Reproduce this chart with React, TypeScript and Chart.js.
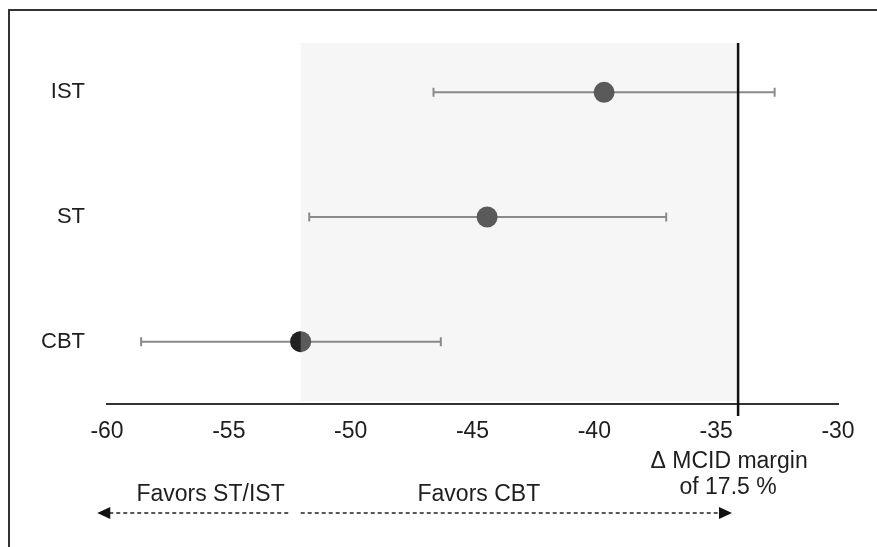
import React, { useEffect, useRef } from 'react';
import { Chart, registerables } from 'chart.js';

Chart.register(...registerables);

const groups = ['IST', 'ST', 'CBT'];
const means = [-39.6, -44.4, -52.05];
const ciLow = [-46.6, -51.7, -58.6];
const ciHigh = [-32.6, -37.05, -46.3];
const xTickValues = [-60, -55, -50, -45, -40, -35, -30];
const marginValue = -34.1;
const shadeStart = -52.05;
const marginLabel = ['\u0394 MCID margin', 'of 17.5 %'];
const favorLeftLabel = 'Favors ST/IST';
const favorRightLabel = 'Favors CBT';
const favorLeftCenter = -55.75;
const favorRightCenter = -44.74;
const arrowLeftTip = -60.4;
const arrowLeftEnd = -52.5;
const arrowRightStart = -52.05;
const arrowRightTip = -34.35;

const FONT = '"Liberation Sans", Arial, sans-serif';
const TEXT = '#1e1e1e';

const forestPlugin = {
  id: 'forest',
  beforeDraw(chart: any) {
    const ctx = chart.ctx;
    ctx.save();
    ctx.strokeStyle = '#333333';
    ctx.lineWidth = 2;
    ctx.beginPath();
    ctx.moveTo(9, chart.height);
    ctx.lineTo(9, 10);
    ctx.lineTo(chart.width, 10);
    ctx.stroke();
    ctx.restore();
  },
  beforeDatasetsDraw(chart: any) {
    const ctx = chart.ctx;
    const xs = chart.scales.x;
    const ys = chart.scales.y;
    const area = chart.chartArea;
    const top = ys.getPixelForValue(-0.395);
    ctx.save();
    const x0 = xs.getPixelForValue(shadeStart);
    const x1 = xs.getPixelForValue(marginValue);
    ctx.fillStyle = '#f6f6f6';
    ctx.fillRect(x0, top, x1 - x0, area.bottom - 3 - top);
    ctx.strokeStyle = '#8a8a8a';
    ctx.lineWidth = 2;
    groups.forEach((g, i) => {
      const y = ys.getPixelForValue(i);
      const a = xs.getPixelForValue(ciLow[i]);
      const b = xs.getPixelForValue(ciHigh[i]);
      ctx.beginPath();
      ctx.moveTo(a, y);
      ctx.lineTo(b, y);
      ctx.moveTo(a, y - 4.5);
      ctx.lineTo(a, y + 4.5);
      ctx.moveTo(b, y - 4.5);
      ctx.lineTo(b, y + 4.5);
      ctx.stroke();
    });
    ctx.restore();
  },
  afterDatasetsDraw(chart: any) {
    const ctx = chart.ctx;
    const xs = chart.scales.x;
    const ys = chart.scales.y;
    const area = chart.chartArea;
    const top = ys.getPixelForValue(-0.395);
    ctx.save();
    const meta = chart.getDatasetMeta(0);
    const p = meta.data[2];
    if (p) {
      ctx.fillStyle = '#222222';
      ctx.beginPath();
      ctx.arc(p.x, p.y, 10.5, Math.PI / 2, (3 * Math.PI) / 2);
      ctx.closePath();
      ctx.fill();
    }
    const mx = xs.getPixelForValue(marginValue);
    ctx.strokeStyle = '#111111';
    ctx.lineWidth = 2.5;
    ctx.beginPath();
    ctx.moveTo(mx, top);
    ctx.lineTo(mx, area.bottom + 12);
    ctx.stroke();
    ctx.fillStyle = TEXT;
    ctx.font = `23px ${FONT}`;
    ctx.textAlign = 'center';
    ctx.textBaseline = 'middle';
    ctx.fillText(marginLabel[0], mx - 9, area.bottom + 58);
    ctx.fillText(marginLabel[1], mx - 10, area.bottom + 84);
    ctx.fillText(favorLeftLabel, xs.getPixelForValue(favorLeftCenter), area.bottom + 91);
    ctx.fillText(favorRightLabel, xs.getPixelForValue(favorRightCenter), area.bottom + 91);
    const ay = area.bottom + 109;
    const lt = xs.getPixelForValue(arrowLeftTip);
    const le = xs.getPixelForValue(arrowLeftEnd);
    const rs = xs.getPixelForValue(arrowRightStart);
    const rt = xs.getPixelForValue(arrowRightTip);
    ctx.strokeStyle = '#222222';
    ctx.lineWidth = 1.5;
    ctx.setLineDash([4, 3]);
    ctx.beginPath();
    ctx.moveTo(lt + 12, ay);
    ctx.lineTo(le, ay);
    ctx.moveTo(rs, ay);
    ctx.lineTo(rt - 12, ay);
    ctx.stroke();
    ctx.setLineDash([]);
    ctx.fillStyle = '#111111';
    ctx.beginPath();
    ctx.moveTo(lt, ay);
    ctx.lineTo(lt + 13, ay - 6);
    ctx.lineTo(lt + 13, ay + 6);
    ctx.closePath();
    ctx.fill();
    ctx.beginPath();
    ctx.moveTo(rt, ay);
    ctx.lineTo(rt - 13, ay - 6);
    ctx.lineTo(rt - 13, ay + 6);
    ctx.closePath();
    ctx.fill();
    ctx.restore();
  },
};

export default function App() {
  const ref = useRef<HTMLCanvasElement | null>(null);
  useEffect(() => {
    if (!ref.current) return;
    const chart = new Chart(ref.current, {
      type: 'scatter',
      data: {
        datasets: [
          {
            data: groups.map((g, i) => ({ x: means[i], y: g })),
            backgroundColor: '#5a5a5a',
            borderWidth: 0,
            pointRadius: 10.5,
            pointHoverRadius: 10.5,
          } as any,
        ],
      },
      options: {
        animation: false,
        responsive: true,
        maintainAspectRatio: false,
        layout: { padding: { top: 30, right: 39, bottom: 0, left: 0 } },
        plugins: { legend: { display: false }, tooltip: { enabled: false } },
        scales: {
          x: {
            type: 'linear',
            min: -60,
            max: -30,
            afterBuildTicks: (scale: any) => {
              scale.ticks = xTickValues.map((v) => ({ value: v }));
            },
            afterFit: (scale: any) => {
              scale.height = 143;
            },
            grid: { display: false, drawTicks: false },
            border: { display: true, color: '#333333', width: 2 },
            ticks: {
              padding: 14,
              color: TEXT,
              font: { size: 23, family: FONT },
              maxRotation: 0,
              callback: (v: any) => String(v),
            },
          },
          y: {
            type: 'category',
            labels: groups,
            offset: true,
            afterFit: (scale: any) => {
              scale.width = 107;
              scale.paddingTop = 0;
              scale.paddingBottom = 0;
            },
            grid: { display: false, drawTicks: false },
            border: { display: false },
            ticks: {
              padding: 22,
              color: TEXT,
              font: { size: 22, family: FONT },
            },
          },
        },
      } as any,
      plugins: [forestPlugin],
    });
    return () => chart.destroy();
  }, []);
  return (
    <div style={{ position: 'fixed', left: 0, top: 0, width: 877, height: 547, background: '#ffffff' }}>
      <canvas ref={ref} />
    </div>
  );
}
